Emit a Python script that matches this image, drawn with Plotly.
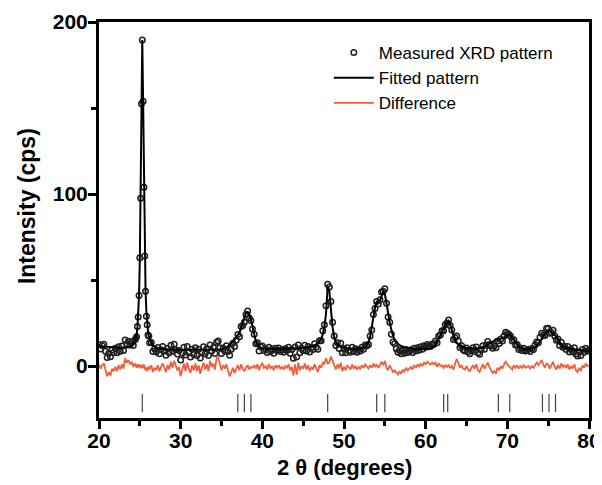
import numpy as np
import plotly.graph_objects as go

# 2-theta scan positions (degrees): 0.2 deg steps, 0.1 deg steps around the main peak
two_theta = np.round(np.concatenate([
    np.arange(20.0, 24.41, 0.2),
    np.arange(24.5, 26.11, 0.1),
    np.arange(26.2, 80.01, 0.2),
]), 2)

# Fitted pattern (cps)
fitted = [
    11.5, 11.4, 11.3, 11.2, 11.1,
    11.0, 11.0, 10.9, 10.9, 10.8,
    10.8, 10.7, 10.7, 10.6, 10.6,
    10.6, 10.7, 10.8, 10.9, 11.2,
    11.6, 12.4, 13.8,
    15.5, 18.0, 22.0, 29.0, 41.0, 62.0, 99.0, 152.0, 189.5,
    155.0, 103.0, 66.0, 44.0, 32.0, 25.0, 20.5, 17.5,
    15.5, 13.2, 11.9, 11.1,
    10.6, 10.3, 10.1, 10.0, 9.9,
    9.8, 9.8, 9.7, 9.7, 9.6,
    9.6, 9.6, 9.5, 9.5, 9.5,
    9.5, 9.4, 9.4, 9.4, 9.3,
    9.3, 9.3, 9.3, 9.2, 9.2,
    9.2, 9.2, 9.2, 9.2, 9.2,
    9.2, 9.2, 9.2, 9.2, 9.3,
    9.3, 9.3, 9.4, 9.5, 9.6,
    9.8, 10.0, 10.3, 10.8, 11.5,
    12.3, 13.2, 14.2, 15.3, 16.5,
    17.8, 19.5, 22.0, 25.0, 28.5,
    31.0, 31.5, 30.0, 27.0, 22.5,
    18.0, 14.5, 12.5, 11.3, 10.6,
    10.2, 10.0, 9.9, 9.9, 9.9,
    9.9, 9.9, 9.9, 9.9, 10.0,
    10.0, 10.0, 10.0, 10.0, 10.0,
    10.0, 10.0, 10.0, 10.1, 10.1,
    10.1, 10.2, 10.2, 10.3, 10.4,
    10.5, 10.6, 10.7, 10.9, 11.1,
    11.3, 11.6, 12.0, 12.5, 13.2,
    14.2, 15.7, 18.5, 23.0, 30.5,
    46.0, 44.0, 32.0, 22.5, 17.0,
    14.0, 12.5, 11.7, 11.2, 10.8,
    10.5, 10.3, 10.2, 10.1, 10.0,
    10.0, 10.0, 10.0, 10.0, 10.1,
    10.2, 10.4, 10.7, 11.2, 12.3,
    14.0, 17.0, 22.0, 28.5, 34.0,
    36.5, 37.0, 38.0, 40.5, 43.0,
    42.0, 37.5, 31.0, 25.0, 20.5,
    17.5, 15.5, 14.0, 13.0, 12.2,
    11.6, 11.2, 10.9, 10.6, 10.4,
    10.2, 10.0, 9.9, 9.8, 9.7,
    9.7, 9.7, 9.7, 9.8, 9.8,
    9.9, 10.0, 10.1, 10.3, 10.8,
    11.5, 12.5, 14.0, 16.0, 18.0,
    20.0, 21.5, 23.5, 25.5, 26.3,
    24.5, 21.0, 17.5, 15.0, 13.5,
    12.5, 11.8, 11.3, 11.0, 10.7,
    10.5, 10.3, 10.2, 10.1, 10.1,
    10.1, 10.1, 10.2, 10.3, 10.5,
    10.8, 11.2, 11.7, 12.3, 13.0,
    13.7, 14.3, 14.8, 15.2, 15.5,
    15.6, 15.7, 16.0, 16.5, 17.2,
    17.9, 18.3, 17.8, 16.5, 14.8,
    13.2, 12.0, 11.1, 10.5, 10.1,
    9.8, 9.7, 9.6, 9.7, 9.9,
    10.2, 10.6, 11.2, 12.0, 13.0,
    14.2, 15.5, 17.0, 18.8, 20.3,
    21.0, 20.5, 19.0, 18.3, 18.0,
    17.0, 15.2, 13.5, 12.3, 11.5,
    11.0, 10.6, 10.3, 10.1, 9.9,
    9.8, 9.6, 9.5, 9.4, 9.3,
    9.2, 9.1, 9.0, 8.9, 8.8,
    8.7,
]

# Difference (measured - fitted), cps
difference = [
    1.0, -1.5, 0.5, 1.5, -2.5,
    -6.0, -3.5, -5.5, -1.5, -3.0,
    -0.5, -3.0, 0.5, -2.0, 1.0,
    -1.5, 4.5, 2.0, 3.5, 1.0,
    2.5, -0.5, 1.5,
    0.5, -1.0, 1.0, -0.5, 0.0, 1.0, -1.5, 0.5, 0.0,
    -1.0, 1.0, -2.0, -0.5, -3.0, -1.0, -2.5, 0.0,
    -2.0, 0.5, -3.5, -1.0,
    -2.5, 0.5, -3.0, -0.5, 1.5,
    -1.0, -3.5, 0.5, -2.0, 2.5,
    -1.0, 3.0, 0.0, -2.5, -0.5,
    -6.0, -2.0, 1.5, -3.0, 2.0,
    -1.5, -4.0, 0.5, -2.5, 1.5,
    -3.0, 0.5, -4.5, -1.0, 2.0,
    -2.0, 1.0, -3.0, 3.0, -0.5,
    1.5, -2.0, 4.5, 5.0, 1.0,
    -2.5, 0.5, -1.5, 1.0, -3.0,
    -6.0, -3.5, -1.0, -4.0, -1.5,
    0.5, -2.5, 1.0, -1.5, -3.0,
    -1.0, 0.5, -2.0, -0.5, -1.0,
    0.5, -1.5, 1.0, -2.5, 0.5,
    1.5, -1.0, 0.0, -2.0, 1.0,
    -1.5, 0.0, -2.5, 0.5, -1.0,
    0.5, -1.5, -0.5, -2.0, 0.0,
    -1.0, 1.0, -2.5, -0.5, -5.5,
    1.0, -5.0, 2.0, -2.5, 0.0,
    -1.5, 1.5, -2.0, 0.5, -3.0,
    -0.5, -2.0, 1.0, -1.5, -3.5,
    0.5, -1.0, 2.0, 1.0, 4.5,
    1.5, 2.0, 5.5, 3.0, 0.5,
    -2.0, 1.0, -1.5, 2.0, -3.0,
    -0.5, -2.5, 0.5, -1.0, -2.0,
    1.0, -1.5, 0.0, -2.0, -0.5,
    -1.5, 0.5, -1.0, 1.0, -0.5,
    -1.5, 0.5, -1.0, 1.5, -0.5,
    1.0, -1.0, 0.5, 2.5, 0.5,
    3.0, -1.0, -2.5, 0.5, -2.0,
    -3.5, -2.5, -4.0, -5.0, -3.0,
    -4.5, -2.0, -3.5, -1.0, -2.5,
    -1.5, -0.5, -2.0, 0.5, -1.0,
    1.0, -0.5, 1.5, 0.0, 2.0,
    1.0, 2.5, 1.5, 1.0, 2.0,
    1.0, 2.0, -0.5, 1.5, 0.0,
    0.5, -1.0, 0.5, -0.5, 0.5,
    -1.0, 0.0, -2.0, 1.5, 4.0,
    2.0, -1.0, 0.5, -1.5, -2.0,
    0.0, -2.0, -3.0, -1.0, 0.5,
    -1.5, 1.0, -2.5, -3.5, -1.0,
    1.0, -1.5, 0.5, 2.0, -0.5,
    -2.0, -4.0, -3.0, -4.5, -1.0,
    -2.5, 0.0, -1.5, 1.0, 2.5,
    1.0, 0.0, -0.5, -2.0, 0.5,
    -1.0, 0.5, -1.5, 0.0, -1.0,
    0.5, -1.0, -0.5, 0.0, -1.5,
    0.0, -1.0, 1.0, 2.0, 0.5,
    2.5, 3.5, 1.0, -1.0, 1.5,
    1.0, -1.5, 0.5, 2.5, -0.5,
    -2.0, 0.5, -1.5, 1.5, -0.5,
    0.5, -1.0, 1.0, -2.0, 0.0,
    -1.5, 1.0, -2.5, -3.5, -1.0,
    -3.0, 0.5, -1.0, 1.5, 0.0,
    0.5,
]

# Bragg reflection positions (anatase), degrees
bragg_positions = [25.3, 37.0, 37.8, 38.6, 48.0, 54.0, 55.0, 62.2, 62.7,
                   68.9, 70.3, 74.3, 75.1, 75.9]
bragg_level = -21.5

x_title = "2 θ (degrees)"
y_title = "Intensity (cps)"

n = min(len(two_theta), len(fitted), len(difference))
two_theta = two_theta[:n]
fitted_arr = np.array(fitted[:n])
diff_arr = np.array(difference[:n])
measured = fitted_arr + diff_arr

FONT = "Liberation Sans, Arial, sans-serif"

fig = go.Figure()
fig.add_trace(go.Scatter(
    x=two_theta, y=measured, mode="markers", name="Measured XRD pattern",
    marker=dict(symbol="circle-open", size=5.5, color="#1e1e1e", line=dict(width=1.5)),
))
fig.add_trace(go.Scatter(
    x=two_theta, y=fitted_arr, mode="lines", name="Fitted pattern",
    line=dict(color="black", width=2),
))
fig.add_trace(go.Scatter(
    x=two_theta, y=diff_arr, mode="lines", name="Difference",
    line=dict(color="#F0603F", width=1.8),
))
fig.add_trace(go.Scatter(
    x=bragg_positions, y=[bragg_level] * len(bragg_positions), mode="markers",
    showlegend=False, hoverinfo="skip",
    marker=dict(symbol="line-ns", size=13, line=dict(color="#444444", width=1.2)),
))

axis_common = dict(
    showline=True, linewidth=3, linecolor="black", mirror=True,
    ticks="outside", ticklen=8, tickwidth=2.5, tickcolor="black",
    showgrid=False, zeroline=False,
    tickfont=dict(family=FONT, size=21, color="black", weight="bold"),
)

fig.update_xaxes(
    range=[20, 80], tickvals=[20, 30, 40, 50, 60, 70, 80],
    minor=dict(dtick=5, ticklen=5, tickwidth=2.5, tickcolor="black", ticks="outside"),
    ticklabelstandoff=-6,
    **axis_common,
)
fig.update_yaxes(
    range=[-30.2, 200], tickvals=[0, 100, 200],
    minor=dict(dtick=50, ticklen=5, tickwidth=2.5, tickcolor="black", ticks="outside"),
    ticklabelstandoff=-4,
    **axis_common,
)

title_font = dict(family=FONT, size=22, color="black", weight="bold")
fig.add_annotation(text=x_title, xref="paper", yref="paper", x=0.502, y=-0.126,
                   xanchor="center", yanchor="middle", showarrow=False, font=title_font)
fig.add_annotation(text=y_title, xref="paper", yref="paper", x=-0.147, y=0.535,
                   xanchor="center", yanchor="middle", showarrow=False,
                   textangle=-90, font=dict(family=FONT, size=23, color="black", weight="bold"))

# The page body has an 8px default margin, so margins are offset to place the
# plot area where the reference has it.
fig.update_layout(
    width=602, height=485,
    margin=dict(l=91, r=21, t=14, b=75, autoexpand=False),
    plot_bgcolor="white", paper_bgcolor="white",
    legend=dict(x=0.469, y=0.967, xanchor="left", yanchor="top",
                bgcolor="rgba(0,0,0,0)", borderwidth=0,
                font=dict(family=FONT, size=17, color="black"),
                tracegroupgap=0, itemwidth=40),
    showlegend=True,
)

fig.write_html("out.html")
